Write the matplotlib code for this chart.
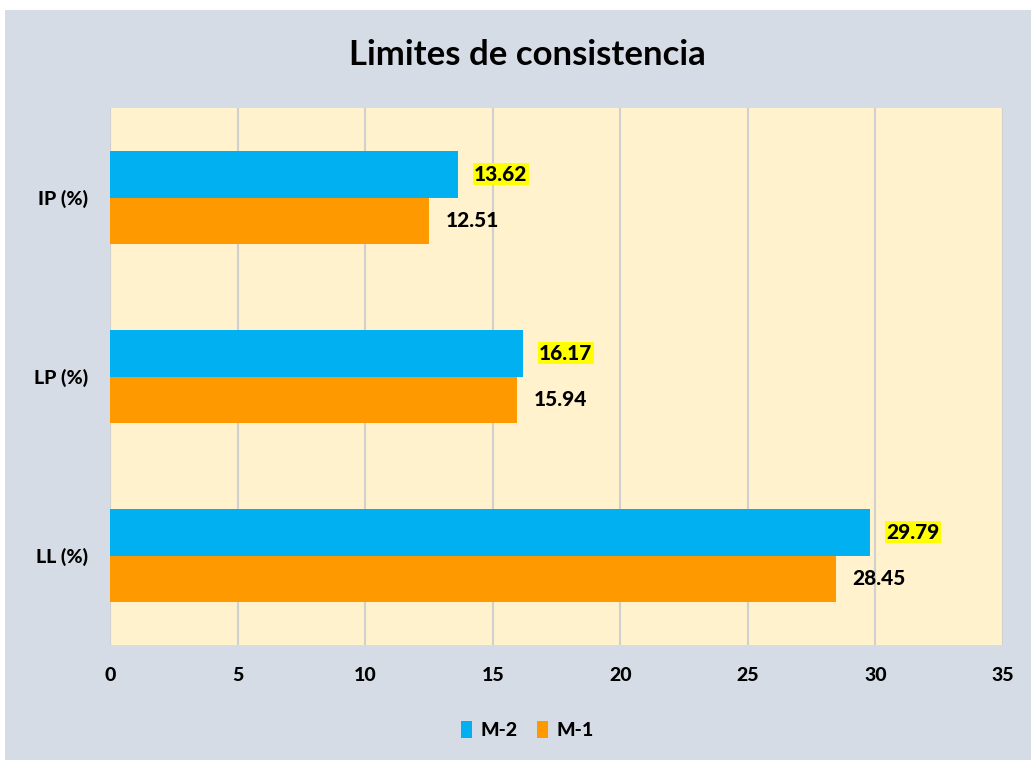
import matplotlib
matplotlib.use("Agg")
import matplotlib.pyplot as plt
from matplotlib.patches import Rectangle
import numpy as np

# data
categorias = ["LL (%)", "LP (%)", "IP (%)"]
m2 = [29.79, 16.17, 13.62]
m1 = [28.45, 15.94, 12.51]
series_names = ["M-2", "M-1"]
xticks = [0, 5, 10, 15, 20, 25, 30, 35]

plt.rcParams['font.family'] = ['Lato', 'DejaVu Sans']
plt.rcParams['font.weight'] = 'black'

fig = plt.figure(figsize=(10.31, 7.6), dpi=100)
fig.patch.set_facecolor('white')
# chart area background
fig.patches.append(Rectangle((5/1031, 0), 1 - 5/1031, 1 - 10/760,
                             transform=fig.transFigure, facecolor='#D6DCE5',
                             edgecolor='none', zorder=-10))

ax = fig.add_axes([110/1031, 1 - 645/760, 893/1031, 537/760])
ax.set_facecolor('#FFF2CC')

y = np.arange(len(categorias))
h = 0.26
ax.barh(y + h/2, m2, height=h, color='#00B0F0', label=series_names[0], zorder=3)
ax.barh(y - h/2, m1, height=h, color='#FF9900', label=series_names[1], zorder=3)

for yi, v in zip(y, m2):
    ax.text(v + 0.65, yi + h/2, f"{v:.2f}", va='center', ha='left', fontsize=15,
            fontweight='black', zorder=4,
            bbox=dict(facecolor='#FFFF00', edgecolor='none', pad=1))
for yi, v in zip(y, m1):
    ax.text(v + 0.65, yi - h/2, f"{v:.2f}", va='center', ha='left', fontsize=15,
            fontweight='black', zorder=4)

ax.set_xlim(0, 35)
ax.set_ylim(-0.5, 2.5)
ax.set_xticks(xticks)
ax.set_yticks(y)
ax.set_yticklabels(categorias)
ax.tick_params(axis='both', length=0, labelsize=14)
ax.tick_params(axis='x', pad=16)
ax.tick_params(axis='y', pad=16)
ax.grid(axis='x', color='#D0D0D0', linewidth=1.5, zorder=1)
for s in ax.spines.values():
    s.set_visible(False)

fig.text(527/1031, 1 - 55/760, "Limites de consistencia", ha='center', va='center',
         fontsize=25, fontweight='bold')

handles, labels = ax.get_legend_handles_labels()
fig.legend(handles, labels, loc='center', bbox_to_anchor=(527/1031, 1 - 730/760),
           ncol=2, frameon=False, fontsize=14, handlelength=0.6, handleheight=1.0,
           handletextpad=0.4, columnspacing=1.0)

fig.savefig("out.png", dpi=100)
